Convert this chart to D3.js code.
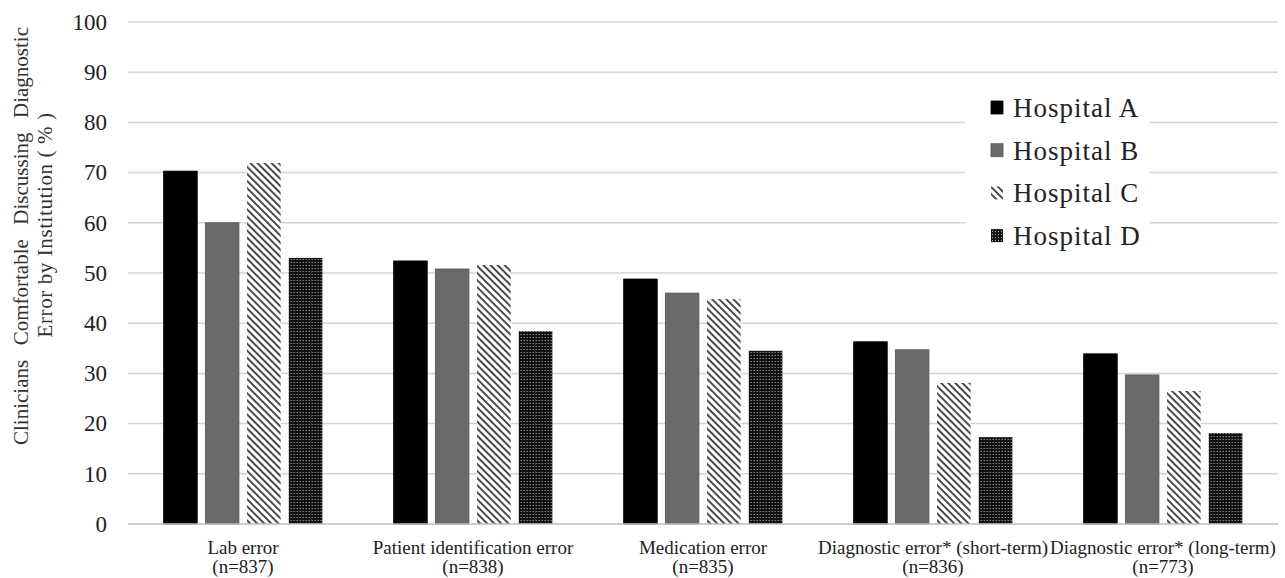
<!DOCTYPE html>
<html><head><meta charset="utf-8">
<script src="https://cdn.jsdelivr.net/npm/d3@7"></script>
<style>body{margin:0;background:#fff}svg{display:block}</style>
</head><body>
<svg id="chart" width="1285" height="578"></svg>
<script>
const categories = ["Lab error|(n=837)", "Patient identification error|(n=838)", "Medication error|(n=835)", "Diagnostic error* (short-term)|(n=836)", "Diagnostic error* (long-term)|(n=773)"];
const seriesNames = ["Hospital A", "Hospital B", "Hospital C", "Hospital D"];
const hospitalA = [70.3, 52.4, 48.8, 36.3, 33.9];
const hospitalB = [60.0, 50.8, 46.0, 34.7, 29.7];
const hospitalC = [71.9, 51.6, 44.8, 28.1, 26.5];
const hospitalD = [53.0, 38.4, 34.5, 17.3, 18.1];
const yTicks = [0, 10, 20, 30, 40, 50, 60, 70, 80, 90, 100];
const seriesValues = [hospitalA, hospitalB, hospitalC, hospitalD];

(function () {
const svg = d3.select("#chart");
const mLeft = 128, mRight = 1278, mTop = 22, mBottom = 524;
const font = "'Liberation Serif', 'Times New Roman', serif";

const defs = svg.append("defs");
const pc = defs.append("pattern").attr("id", "patC").attr("patternUnits", "userSpaceOnUse")
  .attr("width", 5).attr("height", 5).attr("patternTransform", "rotate(-45)");
pc.append("rect").attr("width", 5).attr("height", 5).attr("fill", "#fff");
pc.append("rect").attr("x", 0).attr("width", 2).attr("height", 5).attr("fill", "#4a4a4a");
const pd = defs.append("pattern").attr("id", "patD").attr("patternUnits", "userSpaceOnUse")
  .attr("width", 3).attr("height", 3);
pd.append("rect").attr("width", 3).attr("height", 3).attr("fill", "#111");
pd.append("rect").attr("x", 1).attr("y", 1).attr("width", 1).attr("height", 1).attr("fill", "#bbb");
const fills = ["#000", "#6a6a6a", "url(#patC)", "url(#patD)"];
const strokes = ["#000", "#555", "none", "none"];

const x0 = d3.scaleBand().domain(categories).range([mLeft, mRight]).paddingInner(0.31).paddingOuter(0.155);
const x1 = d3.scaleBand().domain(seriesNames).range([0, x0.bandwidth()]).paddingInner(0.195);
const y = d3.scaleLinear().domain([0, 100]).range([mBottom, mTop]);

svg.append("g").selectAll("line").data(yTicks.filter(d => d > 0)).join("line")
  .attr("x1", mLeft).attr("x2", mRight).attr("y1", d => y(d)).attr("y2", d => y(d))
  .attr("stroke", "#d4d4d4").attr("stroke-width", 1.5);

const yAxis = d3.axisLeft(y).tickValues(yTicks).tickSize(0).tickPadding(21).tickFormat(d3.format("d"));
const ga = svg.append("g").attr("transform", `translate(${mLeft},0)`).call(yAxis);
ga.select(".domain").remove();
ga.selectAll(".tick text").attr("font-family", font).attr("font-size", 23).attr("fill", "#222");

const groups = svg.append("g").selectAll("g").data(categories).join("g")
  .attr("transform", d => `translate(${x0(d)},0)`);
groups.selectAll("rect").data((d, i) => seriesNames.map((s, j) => ({s, j, v: seriesValues[j][i]}))).join("rect")
  .attr("x", d => x1(d.s)).attr("width", x1.bandwidth())
  .attr("y", d => y(d.v)).attr("height", d => y(0) - y(d.v))
  .attr("fill", d => fills[d.j]).attr("stroke", d => strokes[d.j]).attr("stroke-width", 0.8);

svg.append("line").attr("x1", mLeft).attr("x2", mRight).attr("y1", mBottom).attr("y2", mBottom)
  .attr("stroke", "#bdbdbd").attr("stroke-width", 1.5);

const xl = svg.append("g").selectAll("text").data(categories).join("text")
  .attr("font-family", font).attr("font-size", 19).attr("fill", "#222").attr("text-anchor", "middle")
  .attr("x", d => x0(d) + x0.bandwidth() / 2);
xl.append("tspan").attr("y", 554).text(d => d.split("|")[0]);
xl.append("tspan").attr("x", d => x0(d) + x0.bandwidth() / 2).attr("y", 573).text(d => d.split("|")[1]);

// y title: justified words
function justified(txt, cx, cy, size, span) {
  const t = svg.append("text").attr("transform", `translate(${cx},${cy}) rotate(-90)`)
    .attr("font-family", font).attr("font-size", size)
    .attr("fill", "#333").text(txt);
  const nat = t.node().getComputedTextLength();
  const gaps = txt.split(" ").length - 1;
  const ws = Math.max(0, (span - nat) / gaps);
  t.attr("word-spacing", ws).attr("x", -span / 2);
}
justified("Clinicians Comfortable Discussing Diagnostic", 28, 236, 21, 418);
svg.append("text").attr("transform", "translate(52,225) rotate(-90)").attr("text-anchor", "middle")
  .attr("font-family", font).attr("font-size", 21).attr("letter-spacing", 0.6).attr("fill", "#333")
  .text("Error by Institution ( % )");

const lg = svg.append("g");
lg.append("rect").attr("x", 965).attr("y", 84).attr("width", 185).attr("height", 176).attr("fill", "#fff");
const li = lg.selectAll("g").data(seriesNames).join("g")
  .attr("transform", (d, i) => `translate(991,${117 + i * 42.7})`);
li.append("rect").attr("x", 0).attr("y", -16).attr("width", 12).attr("height", 13)
  .attr("fill", (d, i) => fills[i]).attr("stroke", (d, i) => strokes[i]).attr("stroke-width", 0.8);
li.append("text").attr("x", 22).attr("y", 0).attr("font-family", font).attr("font-size", 27)
  .attr("letter-spacing", 1).attr("fill", "#222").text(d => d);
})();
</script>
</body></html>
